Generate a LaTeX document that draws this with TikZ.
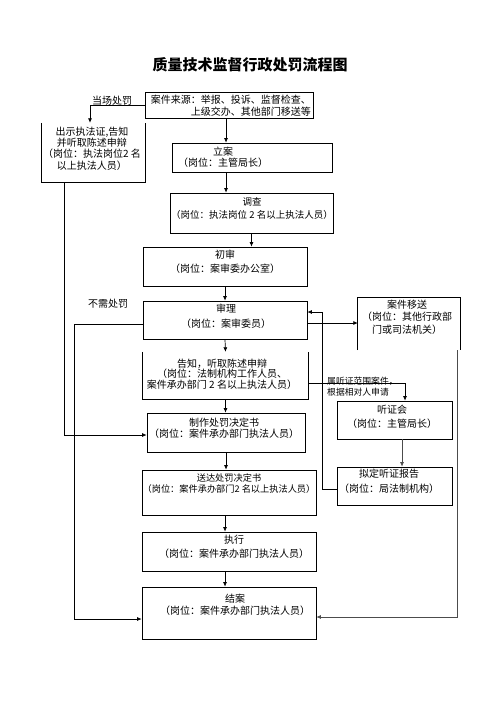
\documentclass[tikz,border=0pt]{standalone}
\usepackage{fontspec}
\setmainfont{Noto Sans CJK SC}
\usetikzlibrary{arrows.meta}

\begin{document}
\begin{tikzpicture}[x=1pt,y=1pt,yscale=-1,
  box/.style={draw,line width=0.7pt,inner sep=0pt},
  openbox/.style={inner sep=0pt},
  txt/.style={inner sep=0pt,align=center,yshift=-1.5pt,font=\fontsize{10}{12}\selectfont},
  note/.style={inner sep=0pt,align=left,font=\fontsize{8.8}{11}\selectfont},
  arr/.style={line width=0.7pt,-{Latex[length=4.5pt,width=4pt]}},
  grayarr/.style={arr,draw=black!70}]
\useasboundingbox (0,0) rectangle (496,702);

% Title
\node[inner sep=0pt,font=\fontsize{15}{18}\selectfont\bfseries] (title) at (250,65) {质量技术监督行政处罚流程图};

%Shape: Rectangle
\node[box,minimum width=168,minimum height=26] (src) at (229,105) {};
\node[openbox,minimum width=103,minimum height=59] (show) at (93.5,152.5) {};
\node[box,minimum width=160,minimum height=29] (lian) at (252,157.5) {};
\node[box,minimum width=163,minimum height=40] (survey) at (251.5,213) {};
\node[box,minimum width=164,minimum height=39] (prelim) at (225,266.5) {};
\node[box,minimum width=164,minimum height=38] (trial) at (225,320) {};
\node[openbox,minimum width=102,minimum height=52] (transfer) at (409,324) {};
\node[openbox,minimum width=165,minimum height=47] (notice) at (225.5,375.5) {};
\node[box,minimum width=158,minimum height=39] (decide) at (226,432.5) {};
\node[box,minimum width=174,minimum height=45] (deliver) at (229,492.5) {};
\node[box,minimum width=174,minimum height=39] (execute) at (229,551.5) {};
\node[box,minimum width=174,minimum height=52] (close) at (229,613) {};
\node[box,minimum width=115,minimum height=38] (hearing) at (394.5,420) {};
\node[box,minimum width=115,minimum height=38] (report) at (394.5,486) {};

%Shape: open boxes
\draw[line width=0.7pt] (show.north west) |- (show.south east) -- (show.north east);
\draw[line width=0.7pt] (notice.north west) |- (notice.south east) -- (notice.north east);
\draw[line width=0.7pt] (transfer.south west) |- (transfer.north east) -- (transfer.south east);

%Straight Lines
\draw[arr] (src.west) -| ([xshift=-3.5pt]show.north);
\draw[arr] ([xshift=-3pt]src.south) -- ([xshift=-3pt]src.south |- lian.north);
\draw[arr] ([xshift=-3pt]src.south |- lian.south) -- ([xshift=-3pt]src.south |- survey.north);
\draw[arr] (survey.south) -- (survey.south |- prelim.north);
\draw[arr] (prelim.south) -- (trial.north);
\draw[arr] (trial.south) -- (notice.north);
\draw[arr] (notice.south) -- (notice.south |- decide.north);
\draw[arr] (decide.south) -- (decide.south |- deliver.north);
\draw[arr] ([xshift=-4pt]deliver.south) -- ([xshift=-4pt]execute.north);
\draw[arr] ([xshift=-4pt]execute.south) -- ([xshift=-4pt]close.north);
\draw[arr] ([yshift=3pt]trial.east) -- ([yshift=3pt]trial.east -| transfer.west);
\draw[arr] ([yshift=7.5pt]notice.east) -| ([xshift=10.5pt]hearing.north);
\draw[grayarr] ([xshift=7.5pt]hearing.south) -- ([xshift=7.5pt]report.north);
\draw[arr] ([yshift=3pt]report.west) -| ([xshift=15pt,yshift=-8pt]trial.east) -- ([yshift=-8pt]trial.east);
\draw[grayarr] ([xshift=-3pt]transfer.south east) |- ([yshift=4pt]close.east);
\draw[arr] ([xshift=-29.5pt]show.south) |- ([yshift=2.5pt]decide.west);
\draw[arr] ([yshift=4pt]trial.west) -| ([xshift=-67pt,yshift=6pt]close.west) -- ([yshift=6pt]close.west);

% Text Node
\node[txt] (quick-t) at (112,99) {当场处罚};
\node[txt] (nofine-t) at (108,302) {不需处罚};
\node[txt,align=right,anchor=east] (src-t) at (311,104) {案件来源：举报、投诉、监督检查、\\上级交办、其他部门移送等};
\node[txt,font=\fontsize{10}{11.3}\selectfont] (show-t) at (92,147) {出示执法证,告知\\并听取陈述申辩\\（岗位：执法岗位2 名\\以上执法人员）};
\node[txt,font=\fontsize{10}{11}\selectfont] (lian-t) at (223,155.5) {立案\\（岗位：主管局长）};
\node[txt,font=\fontsize{9.5}{13}\selectfont] (survey-t) at (252,206.5) {调查\\（岗位：执法岗位 2 名以上执法人员）};
\node[txt,font=\fontsize{10}{14}\selectfont] (prelim-t) at (225,260) {初审\\（岗位：案审委办公室）};
\node[txt,font=\fontsize{10}{15}\selectfont] (trial-t) at (226,314.5) {审理\\（岗位：案审委员）};
\node[txt,font=\fontsize{10}{12.5}\selectfont] (transfer-t) at (407,315.5) {案件移送\\（岗位：其他行政部\\门或司法机关）};
\node[txt,font=\fontsize{10}{10.5}\selectfont] (notice-t) at (222,372.5) {告知，听取陈述申辩\\（岗位：法制机构工作人员、\\案件承办部门 2 名以上执法人员）};
\node[note,anchor=west] (hear-note) at (327,386.5) {属听证范围案件，\\根据相对人申请};
\node[txt,font=\fontsize{10}{14}\selectfont] (hearing-t) at (392,415) {听证会\\（岗位：主管局长）};
\node[txt,font=\fontsize{10}{15}\selectfont] (report-t) at (389,479.5) {拟定听证报告\\（岗位：局法制机构）};
\node[txt,font=\fontsize{10}{11}\selectfont] (decide-t) at (224,426.5) {制作处罚决定书\\（岗位：案件承办部门执法人员）};
\node[txt,font=\fontsize{9.2}{11}\selectfont] (deliver-t) at (229,482.5) {送达处罚决定书\\（岗位：案件承办部门2 名以上执法人员）};
\node[txt,font=\fontsize{10}{14}\selectfont] (execute-t) at (234,545) {执行\\（岗位：案件承办部门执法人员）};
\node[txt,font=\fontsize{10}{12}\selectfont] (close-t) at (235,603) {结案\\（岗位：案件承办部门执法人员）};
\end{tikzpicture}
\end{document}
